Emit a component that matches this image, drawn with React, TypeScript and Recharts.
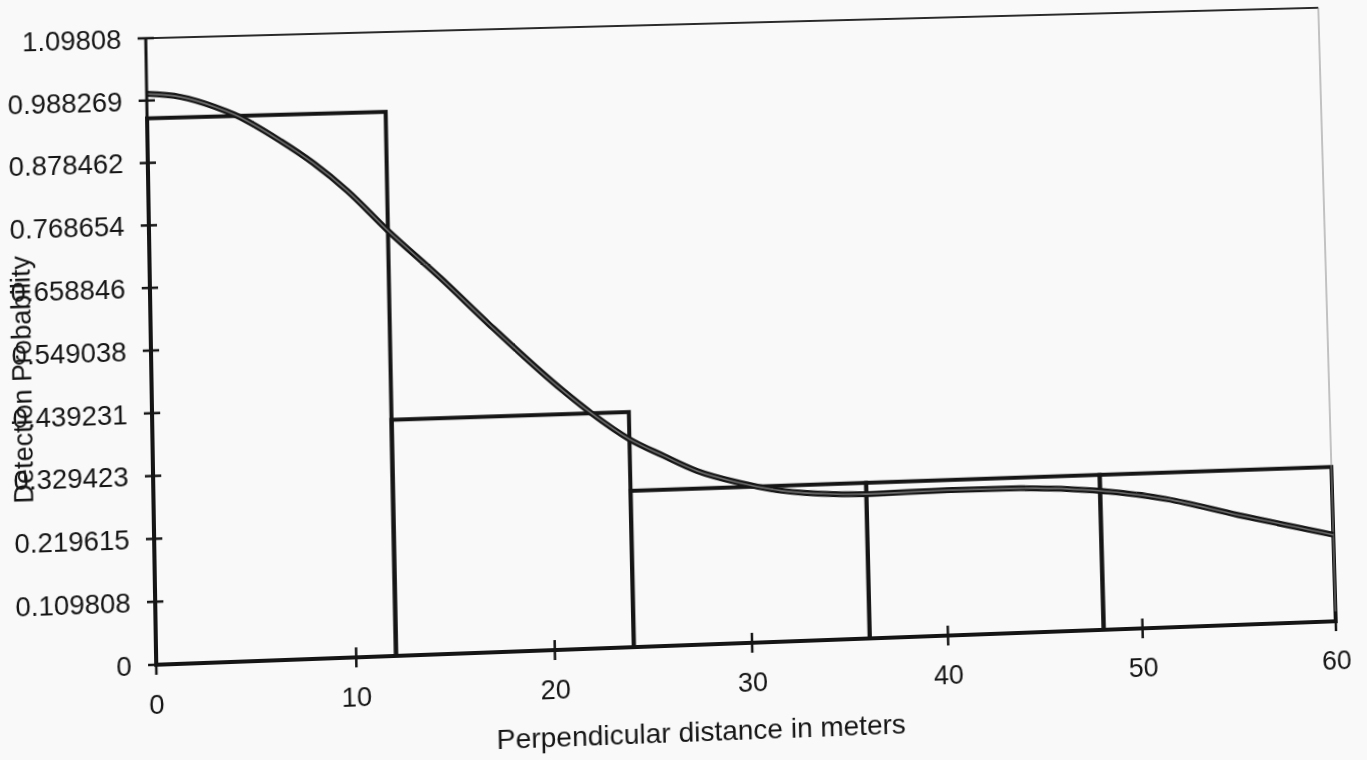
import { ComposedChart, Line, XAxis, YAxis, ReferenceArea, ReferenceLine } from 'recharts';

// histogram bins (perpendicular distance, m) and their scaled heights
const binEdges = [0, 12, 24, 36, 48, 60];
const binHeights = [0.957, 0.414, 0.275, 0.275, 0.275];

// fitted detection function
const curveX = [0, 1.7, 3.4, 4.4, 6.7, 8.3, 10, 12, 14.6, 17, 20.6, 22.1, 24, 25.7, 27.4, 29.5, 31.7, 34.3, 36, 40.2, 43.9, 47.9, 51.4, 55.1, 60];
const curveY = [1.0, 0.993, 0.974, 0.959, 0.91, 0.87, 0.819, 0.747, 0.661, 0.577, 0.458, 0.414, 0.366, 0.335, 0.306, 0.283, 0.266, 0.257, 0.255, 0.257, 0.256, 0.247, 0.228, 0.195, 0.154];

const xTicks = [0, 10, 20, 30, 40, 50, 60];
const yTicks = [0, 0.109808, 0.219615, 0.329423, 0.439231, 0.549038, 0.658846, 0.768654, 0.878462, 0.988269, 1.09808];

const xTitle = 'Perpendicular distance in meters';
const yTitle = 'Detection Probability';

const curveData = curveX.map((x, i) => ({ x, p: curveY[i] }));
const bins = binHeights.map((h, i) => ({ from: binEdges[i], to: binEdges[i + 1], h }));
const yMax = yTicks[yTicks.length - 1];

const FONT = '"Liberation Sans", Arial, Helvetica, sans-serif';
const INK = '#151515';
const Y_TICK = 8;
const Y_GAP = 16;
const X_TICK = 10;
const X_GAP = 20;

// the original is a photocopied page that is skewed and a bit out of square,
// so the flat chart is warped roughly onto the scanned outline
const SCAN_WARP =
  'matrix3d(1.018557, -0.0257548, 0, 0.000017612, 0.0151616, 0.9910036, 0, -0.00000994045, 0, 0, 1, 0, -7.3309, 23.29702, 0, 0.99753826)';

function YTick({ x, y, payload }: any) {
  const axisX = x + Y_TICK + Y_GAP;
  return (
    <g>
      <line x1={axisX - Y_TICK} x2={axisX + Y_TICK} y1={y} y2={y} stroke={INK} strokeWidth={2.5} />
      <text x={x} y={y} dy="0.36em" textAnchor="end" fontSize={27} fontFamily={FONT} fill={INK}>
        {String(payload.value)}
      </text>
    </g>
  );
}

function XTick({ x, y, payload }: any) {
  const axisY = y - X_TICK - X_GAP;
  return (
    <g>
      <line x1={x} x2={x} y1={axisY - X_TICK} y2={axisY + X_TICK} stroke={INK} strokeWidth={2.5} />
      <text x={x} y={y} dy="0.72em" textAnchor="middle" fontSize={27} fontFamily={FONT} fill={INK}>
        {payload.value}
      </text>
    </g>
  );
}

function YTitle({ viewBox }: any) {
  const cx = viewBox.x + 23;
  const cy = viewBox.y + viewBox.height / 2 + 25;
  return (
    <text x={cx} y={cy} dy="0.35em" textAnchor="middle" transform={`rotate(-90 ${cx} ${cy})`}
      fontSize={27} fontFamily={FONT} fill={INK}>
      {yTitle}
    </text>
  );
}

function XTitle({ viewBox }: any) {
  const cx = viewBox.x + viewBox.width / 2 - 52;
  const cy = viewBox.y + 87;
  return (
    <text x={cx} y={cy} dy="0.35em" textAnchor="middle" fontSize={28} fontFamily={FONT} fill={INK}>
      {xTitle}
    </text>
  );
}

export default function App() {
  return (
    <div style={{ position: 'fixed', left: 0, top: 0, width: 1367, height: 760, background: '#f9f9f9', overflow: 'hidden' }}>
      <div style={{ width: 1367, height: 760, transform: SCAN_WARP, transformOrigin: '0 0' }}>
        <ComposedChart width={1367} height={760} data={curveData} margin={{ top: 19, right: 39, bottom: 0, left: 0 }}>
          <XAxis
            dataKey="x"
            type="number"
            domain={[0, 60]}
            ticks={xTicks}
            height={113}
            tickSize={X_TICK}
            tickMargin={X_GAP}
            tickLine={false}
            axisLine={{ stroke: INK, strokeWidth: 3 }}
            tick={<XTick />}
            label={XTitle}
          />
          <YAxis
            type="number"
            domain={[0, yMax]}
            ticks={yTicks}
            width={150}
            tickSize={Y_TICK}
            tickMargin={Y_GAP}
            tickLine={false}
            axisLine={{ stroke: INK, strokeWidth: 3 }}
            tick={<YTick />}
            label={YTitle}
          />
          <ReferenceLine y={yMax} stroke="#2a2a2a" strokeWidth={1.8} />
          <ReferenceLine x={60} stroke="#8a8a8a" strokeWidth={1} />
          {bins.map((b) => (
            <ReferenceArea
              key={b.from}
              x1={b.from}
              x2={b.to}
              y1={0}
              y2={b.h}
              fill="none"
              stroke={INK}
              strokeWidth={4}
              ifOverflow="visible"
            />
          ))}
          <Line dataKey="p" type="monotone" stroke={INK} strokeWidth={6} dot={false} activeDot={false} isAnimationActive={false} />
          <Line dataKey="p" type="monotone" stroke="#6e6e6e" strokeWidth={1.6} dot={false} activeDot={false} isAnimationActive={false} />
        </ComposedChart>
      </div>
    </div>
  );
}
